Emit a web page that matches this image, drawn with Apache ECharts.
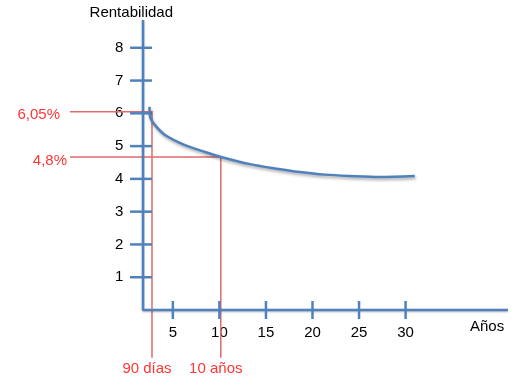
<!DOCTYPE html>
<html>
<head>
<meta charset="utf-8">
<script src="https://cdn.jsdelivr.net/npm/echarts@6/dist/echarts.min.js"></script>
<style>html,body{margin:0;padding:0;background:#fff;}#c{width:525px;height:385px;}</style>
</head>
<body>
<div id="c"></div>
<script>
// ---- data ----
const yTickValues = [1, 2, 3, 4, 5, 6, 7, 8];
const xTickValues = [5, 10, 15, 20, 25, 30];
const yAxisLineX = 1.8;      // x value where the drawn y axis stands
const yAxisTop = 8.85;       // top of the drawn y axis
const xAxisEnd = 41;         // right end of the drawn x axis
const curveX = [2.49, 2.55, 3.08, 4.16, 6.30, 8.45, 10.17, 13.29, 15.96, 18.63, 21.32, 24.03, 27.25, 30.99];
const curveY = [6.20, 5.90, 5.64, 5.34, 5.03, 4.82, 4.67, 4.45, 4.32, 4.21, 4.13, 4.09, 4.06, 4.09];
const refX = [2.76, 10.15];          // 90 días, 10 años
const refY = [6.05, 4.67];           // 6,05 %, 4,8 %
const refLineStartX = -6.05;
const refLineBottomY = -1.46;
const refYLabels = ['6,05%', '4,8%'];
const refXLabels = ['90 días', '10 años'];
const yAxisName = 'Rentabilidad';
const xAxisName = 'Años';

const BLUE = '#4f81bd';
const RED = '#e06b6b';
const FONT = 'Liberation Sans';

const chart = echarts.init(document.getElementById('c'), null, {renderer: 'canvas'});

const series = [];

// axes drawn as an L-shaped line
series.push({
  type: 'line', silent: true, clip: false, symbol: 'none', z: 3,
  lineStyle: {color: BLUE, width: 2.5, shadowColor: 'rgba(0,0,0,0.25)', shadowBlur: 2, shadowOffsetY: 1},
  data: [[yAxisLineX, yAxisTop], [yAxisLineX, 0], [xAxisEnd, 0]]
});

// tick marks crossing the axes
series.push({
  type: 'custom', silent: true, clip: false, z: 4,
  data: yTickValues.map(v => [yAxisLineX, v]),
  renderItem: (params, api) => {
    const p = api.coord([api.value(0), api.value(1)]);
    return {type: 'line', shape: {x1: p[0] - 13, y1: p[1], x2: p[0] + 9, y2: p[1]}, style: {stroke: BLUE, lineWidth: 2.5}};
  }
});
series.push({
  type: 'custom', silent: true, clip: false, z: 4,
  data: xTickValues.map(v => [v, 0]),
  renderItem: (params, api) => {
    const p = api.coord([api.value(0), api.value(1)]);
    return {type: 'line', shape: {x1: p[0], y1: p[1] - 9, x2: p[0], y2: p[1] + 9}, style: {stroke: BLUE, lineWidth: 2.5}};
  }
});

// red reference lines (horizontal from the left, then down)
series.push({
  type: 'custom', silent: true, clip: false, z: 2,
  data: refX.map((x, i) => [x, refY[i]]),
  renderItem: (params, api) => {
    const x = api.value(0), y = api.value(1);
    const a = api.coord([refLineStartX, y]);
    const b = api.coord([x, y]);
    const c = api.coord([x, refLineBottomY]);
    return {type: 'polyline', shape: {points: [a, b, c]}, style: {stroke: RED, lineWidth: 1.5, fill: null}};
  }
});

// the curve
series.push({
  type: 'line', silent: true, clip: false, symbol: 'none', smooth: 0.3, z: 5,
  lineStyle: {color: BLUE, width: 2.5, shadowColor: 'rgba(0,0,0,0.35)', shadowBlur: 3, shadowOffsetX: 1, shadowOffsetY: 2},
  data: curveX.map((x, i) => [x, curveY[i]])
});

// red text labels
const labelData = [];
refY.forEach((y, i) => {
  labelData.push({
    value: [refLineStartX, y],
    label: {show: true, position: 'left', distance: i === 0 ? 10 : 3, offset: [0, i === 0 ? 3 : 4], formatter: refYLabels[i]}
  });
});
refX.forEach((x, i) => {
  labelData.push({
    value: [x, refLineBottomY],
    label: {show: true, position: 'bottom', distance: 4, offset: [-5, 0], formatter: refXLabels[i]}
  });
});
series.push({
  type: 'scatter', silent: true, clip: false, symbolSize: 0, z: 6,
  label: {color: '#ff0000', fontFamily: FONT, fontSize: 15},
  data: labelData
});

chart.setOption({
  animation: false,
  backgroundColor: '#ffffff',
  grid: {left: 126.3, right: 17, top: 15, bottom: 75},
  xAxis: {
    type: 'value', min: 0, max: xAxisEnd, interval: 5,
    axisLine: {show: false}, axisTick: {show: false}, splitLine: {show: false},
    axisLabel: {
      margin: 15, color: '#000', fontFamily: FONT, fontSize: 15, showMaxLabel: false,
      formatter: v => (xTickValues.indexOf(v) >= 0 ? String(v) : '')
    },
    name: xAxisName, nameLocation: 'end', nameGap: -38,
    nameTextStyle: {color: '#000', fontFamily: FONT, fontSize: 15, verticalAlign: 'top', padding: [9, 0, 0, 0]}
  },
  yAxis: {
    type: 'value', min: 0, max: 9, interval: 1,
    axisLine: {show: false}, axisTick: {show: false}, splitLine: {show: false},
    axisLabel: {
      margin: 3, color: '#000', fontFamily: FONT, fontSize: 15, showMaxLabel: false,
      formatter: v => (yTickValues.indexOf(v) >= 0 ? String(v) : '')
    },
    name: yAxisName, nameLocation: 'end', nameGap: -5,
    nameTextStyle: {color: '#000', fontFamily: FONT, fontSize: 15, padding: [0, 0, 0, 10]}
  },
  series: series
});
</script>
</body>
</html>
